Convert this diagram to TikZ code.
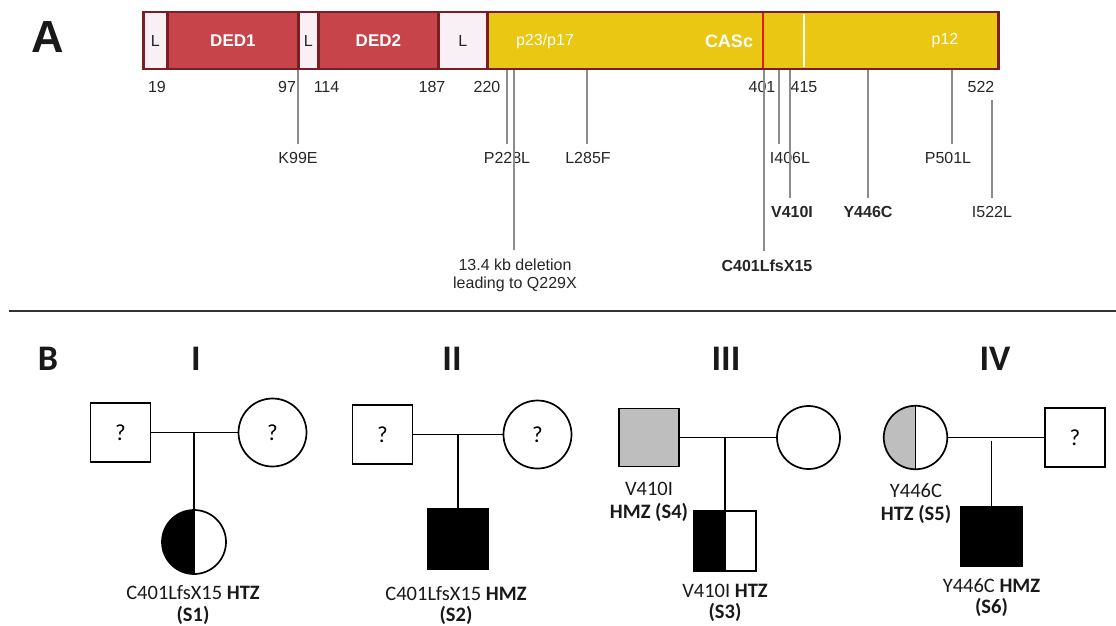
\documentclass[tikz,border=0pt]{standalone}
\usepackage{fontspec}
\setmainfont{Carlito}
\newfontfamily\rob{Liberation Sans}
\definecolor{bord}{HTML}{7A1E24}
\definecolor{ded}{HTML}{C8444B}
\definecolor{lnk}{HTML}{F8F0F4}
\definecolor{casc}{HTML}{EAC712}
\definecolor{redl}{HTML}{E8141C}
\definecolor{mutg}{HTML}{8C8C8C}
\definecolor{numc}{HTML}{262626}
\definecolor{carr}{HTML}{BEBEBE}
\definecolor{divc}{HTML}{333333}
\tikzset{
  seg/.style={draw=bord, line width=2.8pt, minimum height=57, anchor=west, inner sep=0,
    font=\rob\fontsize{16}{18}\selectfont, text=numc},
  dom/.style={font=\rob\bfseries\fontsize{17}{20}\selectfont, text=white, inner sep=0},
  sub/.style={font=\rob\fontsize{16}{19}\selectfont, text=white, inner sep=0},
  num/.style={anchor=base, font=\rob\fontsize{16}{19}\selectfont, text=numc, inner sep=0},
  mlab/.style={anchor=base, font=\rob\fontsize{16}{19}\selectfont, text=numc, inner xsep=0, inner ysep=8pt},
  mbold/.style={mlab, font=\rob\bfseries\fontsize{16}{19}\selectfont},
  mut/.style={draw=mutg, line width=1.1pt},
  ped/.style={draw=black, line width=1.7pt, inner sep=0, fill=white, font=\fontsize{23}{26}\selectfont},
  sq/.style={ped, rectangle, minimum width=60, minimum height=59},
  ci/.style={ped, circle},
  pl/.style={draw=black, line width=1.7pt},
  plab/.style={anchor=base, font=\fontsize{20.5}{24}\selectfont, inner sep=0, text=black!90},
  halfleft/.style={path picture={
      \fill[#1] (path picture bounding box.north west) rectangle (path picture bounding box.south);
      \draw[black, line width=1.7pt] (path picture bounding box.north) -- (path picture bounding box.south);}},
  roman/.style={anchor=base, font=\bfseries\fontsize{36}{40}\selectfont, inner sep=0, text=black!90},
}
\begin{document}
\begin{tikzpicture}[x=1pt,y=-1pt]
\useasboundingbox (0,0) rectangle (1116,625);
% ---------- Panel A ----------
\node[anchor=base, font=\rob\bfseries\fontsize{45}{50}\selectfont, inner sep=0, text=black!90] (lA) at (48,52) {A};
\node[seg, fill=lnk, minimum width=24] (L1) at (142,40.5) {L};
\node[seg, fill=ded, minimum width=131] (D1) at (166,40.5) {};
\node[seg, fill=lnk, minimum width=20] (L2) at (297,40.5) {L};
\node[seg, fill=ded, minimum width=120] (D2) at (317,40.5) {};
\node[seg, fill=lnk, minimum width=49] (L3) at (437,40.5) {L};
\node[seg, fill=casc, minimum width=511] (cas) at (486,40.5) {};
\node[dom] (tD1) at (D1.center) {DED1};
\node[dom] (tD2) at (D2.center) {DED2};
\node[sub] (tp23) at (545,41) {p23/p17};
\node[dom, font=\rob\bfseries\fontsize{18}{20}\selectfont] (tcas) at (729,41) {CASc};
\node[sub] (tp12) at (945,41) {p12};
\draw[redl, line width=2.2pt] (763,13) -- (763,68);
\draw[white, line width=1.6pt] (804,14) -- (804,67);
% position numbers
\node[num] (n19) at (157,92) {19};
\node[num] (n97) at (287,92) {97};
\node[num] (n114) at (326.5,92) {114};
\node[num] (n187) at (432,92) {187};
\node[num] (n220) at (487,92) {220};
\node[num] (n401) at (762,92) {401};
\node[num] (n415) at (804,92) {415};
\node[num] (n522) at (981,92) {522};
% mutation labels
\node[mlab] (k99e) at (298,163) {K99E};
\node[mlab] (p228l) at (507,163) {P228L};
\node[mlab] (l285f) at (588,163) {L285F};
\node[mlab] (i406l) at (790,163) {I406L};
\node[mlab] (p501l) at (948,163) {P501L};
\node[mbold] (v410i) at (792,217) {V410I};
\node[mbold] (y446c) at (868,217) {Y446C};
\node[mlab] (i522l) at (992,217) {I522L};
\node[mbold] (c401) at (767,271) {C401LfsX15};
\node[mlab] (del1) at (515,270) {13.4 kb deletion};
\node[mlab] (del2) at (515,288) {leading to Q229X};
% mutation connectors
\coordinate (mK) at (298,70);
\coordinate (mP2) at (507,70);
\coordinate (mDel) at (514,70);
\coordinate (mL2) at (587,70);
\coordinate (mC4) at (764,70);
\coordinate (mI4) at (779,70);
\coordinate (mV4) at (790,70);
\coordinate (mY4) at (868,70);
\coordinate (mP5) at (952,70);
\coordinate (mI5) at (992,100);
\draw[mut] (mK) -- (mK |- k99e.north);
\draw[mut] (mP2) -- (mP2 |- p228l.north);
\draw[mut] (mDel) -- (mDel |- del1.north);
\draw[mut] (mL2) -- (mL2 |- l285f.north);
\draw[mut] (mC4) -- (mC4 |- c401.north);
\draw[mut] (mI4) -- (mI4 |- i406l.north);
\draw[mut] (mV4) -- (mV4 |- v410i.north);
\draw[mut] (mY4) -- (mY4 |- y446c.north);
\draw[mut] (mP5) -- (mP5 |- p501l.north);
\draw[mut] (mI5) -- (mI5 |- i522l.north);
% divider
\coordinate (dvL) at (9,311);
\coordinate (dvR) at (1116,311);
\draw[divc, line width=2.4pt] (dvL) -- (dvR);
% ---------- Panel B ----------
\node[anchor=base, font=\bfseries\fontsize{36}{40}\selectfont, inner sep=0, text=black!90] (lB) at (48,370) {B};
\node[roman] (r1) at (196,370) {I};
\node[roman] (r2) at (452,370) {II};
\node[roman] (r3) at (726,370) {III};
\node[roman] (r4) at (995,370) {IV};
% Family I
\node[sq] (f1) at (120.5,432.5) {?};
\node[ci, minimum size=68] (m1) at (272.5,432.5) {?};
\node[ci, minimum size=64, halfleft=black] (s1) at (194,542) {};
\draw[pl] (f1) -- (m1);
\draw[pl] (s1.north |- f1.east) -- (s1.north);
\node[plab] (s1a) at (193,599) {C401LfsX15 \textbf{HTZ}};
\node[plab] (s1b) at (193,621) {\textbf{(S1)}};
% Family II
\node[sq] (f2) at (382.5,434.5) {?};
\node[ci, minimum size=68] (m2) at (537.5,434.5) {?};
\node[sq, fill=black, minimum width=60.5, minimum height=60] (s2) at (458,539) {};
\draw[pl] (f2) -- (m2);
\draw[pl] (s2.north |- f2.east) -- (s2.north);
\node[plab] (s2a) at (456,600) {C401LfsX15 \textbf{HMZ}};
\node[plab] (s2b) at (456,621) {\textbf{(S2)}};
% Family III
\node[sq, fill=carr, minimum height=58] (f3) at (649,437.5) {};
\node[ci, minimum size=63] (m3) at (808.5,437.5) {};
\node[sq, minimum width=62, minimum height=60, halfleft=black] (s3) at (725,541) {};
\draw[pl] (f3) -- (m3);
\draw[pl] (s3.north |- f3.east) -- (s3.north);
\node[plab] (s4a) at (649,495) {V410I};
\node[plab] (s4b) at (649,518) {\textbf{HMZ (S4)}};
\node[plab] (s3a) at (725,597) {V410I \textbf{HTZ}};
\node[plab] (s3b) at (725,618) {\textbf{(S3)}};
% Family IV
\node[ci, minimum size=63.5, halfleft=carr] (f4) at (915.5,437.5) {};
\node[sq] (m4) at (1075,437.5) {?};
\node[sq, fill=black, minimum width=61] (s6) at (991.5,536.5) {};
\draw[pl] (f4) -- (m4);
\draw[pl] ([yshift=-3pt]s6.north |- f4.east) -- (s6.north);
\node[plab] (s5a) at (916,497) {Y446C};
\node[plab] (s5b) at (916,520) {\textbf{HTZ (S5)}};
\node[plab] (s6a) at (991.5,592) {Y446C \textbf{HMZ}};
\node[plab] (s6b) at (991.5,613) {\textbf{(S6)}};
\end{tikzpicture}
\end{document}
